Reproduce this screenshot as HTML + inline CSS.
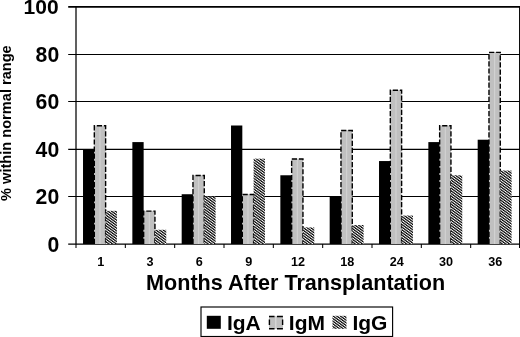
<!DOCTYPE html>
<html><head><meta charset="utf-8"><title>chart</title>
<style>
html,body{margin:0;padding:0;background:#fff;}
body{width:520px;height:337px;overflow:hidden;}
svg{display:block;}
text{font-family:"Liberation Sans",Arial,sans-serif;font-weight:bold;fill:#000;}
</style></head><body>
<svg width="520" height="337" viewBox="0 0 520 337">
<defs>
<pattern id="hatch" width="2.16" height="2.16" patternUnits="userSpaceOnUse" patternTransform="rotate(-54)">
<rect width="2.16" height="2.16" fill="#fff"/><rect width="1.18" height="2.16" fill="#000"/>
</pattern>
</defs>
<rect width="520" height="337" fill="#fff"/>

<line x1="68.2" y1="244.05" x2="520.0" y2="244.05" stroke="#000" stroke-width="1.25"/>
<line x1="68.2" y1="196.50" x2="520.0" y2="196.50" stroke="#000" stroke-width="1.0"/>
<line x1="68.2" y1="149.30" x2="520.0" y2="149.30" stroke="#000" stroke-width="1.2"/>
<line x1="68.2" y1="101.50" x2="520.0" y2="101.50" stroke="#000" stroke-width="1.0"/>
<line x1="68.2" y1="54.50" x2="520.0" y2="54.50" stroke="#000" stroke-width="1.0"/>
<line x1="68.2" y1="6.95" x2="520.0" y2="6.95" stroke="#000" stroke-width="1.7"/>
<line x1="76.0" y1="6.2" x2="76.0" y2="244.0" stroke="#000" stroke-width="1.25"/>
<line x1="519.6" y1="6.2" x2="519.6" y2="248.0" stroke="#000" stroke-width="1.1"/>
<line x1="76.00" y1="244.0" x2="76.00" y2="248.0" stroke="#000" stroke-width="1.05"/>
<line x1="125.33" y1="244.0" x2="125.33" y2="248.0" stroke="#000" stroke-width="1.05"/>
<line x1="174.67" y1="244.0" x2="174.67" y2="248.0" stroke="#000" stroke-width="1.05"/>
<line x1="224.00" y1="244.0" x2="224.00" y2="248.0" stroke="#000" stroke-width="1.05"/>
<line x1="273.33" y1="244.0" x2="273.33" y2="248.0" stroke="#000" stroke-width="1.05"/>
<line x1="322.67" y1="244.0" x2="322.67" y2="248.0" stroke="#000" stroke-width="1.05"/>
<line x1="372.00" y1="244.0" x2="372.00" y2="248.0" stroke="#000" stroke-width="1.05"/>
<line x1="421.33" y1="244.0" x2="421.33" y2="248.0" stroke="#000" stroke-width="1.05"/>
<line x1="470.67" y1="244.0" x2="470.67" y2="248.0" stroke="#000" stroke-width="1.05"/>
<line x1="520.00" y1="244.0" x2="520.00" y2="248.0" stroke="#000" stroke-width="1.05"/>
<rect x="83.02" y="149.20" width="11.3" height="94.80" fill="#000"/>
<rect x="94.32" y="125.50" width="11.3" height="118.50" fill="#c0c0c0"/>
<rect x="99.47" y="126.50" width="1" height="117.50" fill="#d4d4d4"/>
<path d="M94.32 244.0 V125.80 H105.62 V244.0" fill="none" stroke="#000" stroke-width="1.4" stroke-dasharray="5.2 1.9"/>
<rect x="105.62" y="210.82" width="11.3" height="33.18" fill="url(#hatch)"/>
<text transform="translate(100.67,265.8) scale(1.02,1)" font-size="12.4" text-anchor="middle">1</text>
<rect x="132.35" y="142.09" width="11.3" height="101.91" fill="#000"/>
<rect x="143.65" y="210.82" width="11.3" height="33.18" fill="#c0c0c0"/>
<rect x="148.80" y="211.82" width="1" height="32.18" fill="#d4d4d4"/>
<path d="M143.65 244.0 V211.12 H154.95 V244.0" fill="none" stroke="#000" stroke-width="1.4" stroke-dasharray="5.2 1.9"/>
<rect x="154.95" y="229.78" width="11.3" height="14.22" fill="url(#hatch)"/>
<text transform="translate(150.00,265.8) scale(1.02,1)" font-size="12.4" text-anchor="middle">3</text>
<rect x="181.68" y="194.23" width="11.3" height="49.77" fill="#000"/>
<rect x="192.98" y="175.27" width="11.3" height="68.73" fill="#c0c0c0"/>
<rect x="198.13" y="176.27" width="1" height="67.73" fill="#d4d4d4"/>
<path d="M192.98 244.0 V175.57 H204.28 V244.0" fill="none" stroke="#000" stroke-width="1.4" stroke-dasharray="5.2 1.9"/>
<rect x="204.28" y="196.60" width="11.3" height="47.40" fill="url(#hatch)"/>
<text transform="translate(199.33,265.8) scale(1.02,1)" font-size="12.4" text-anchor="middle">6</text>
<rect x="231.02" y="125.50" width="11.3" height="118.50" fill="#000"/>
<rect x="242.32" y="194.23" width="11.3" height="49.77" fill="#c0c0c0"/>
<rect x="247.47" y="195.23" width="1" height="48.77" fill="#d4d4d4"/>
<path d="M242.32 244.0 V194.53 H253.62 V244.0" fill="none" stroke="#000" stroke-width="1.4" stroke-dasharray="5.2 1.9"/>
<rect x="253.62" y="158.68" width="11.3" height="85.32" fill="url(#hatch)"/>
<text transform="translate(248.67,265.8) scale(1.02,1)" font-size="12.4" text-anchor="middle">9</text>
<rect x="280.35" y="175.27" width="11.3" height="68.73" fill="#000"/>
<rect x="291.65" y="158.68" width="11.3" height="85.32" fill="#c0c0c0"/>
<rect x="296.80" y="159.68" width="1" height="84.32" fill="#d4d4d4"/>
<path d="M291.65 244.0 V158.98 H302.95 V244.0" fill="none" stroke="#000" stroke-width="1.4" stroke-dasharray="5.2 1.9"/>
<rect x="302.95" y="227.41" width="11.3" height="16.59" fill="url(#hatch)"/>
<text transform="translate(298.00,265.8) scale(1.02,1)" font-size="12.4" text-anchor="middle">12</text>
<rect x="329.68" y="196.60" width="11.3" height="47.40" fill="#000"/>
<rect x="340.98" y="130.24" width="11.3" height="113.76" fill="#c0c0c0"/>
<rect x="346.13" y="131.24" width="1" height="112.76" fill="#d4d4d4"/>
<path d="M340.98 244.0 V130.54 H352.28 V244.0" fill="none" stroke="#000" stroke-width="1.4" stroke-dasharray="5.2 1.9"/>
<rect x="352.28" y="225.04" width="11.3" height="18.96" fill="url(#hatch)"/>
<text transform="translate(347.33,265.8) scale(1.02,1)" font-size="12.4" text-anchor="middle">18</text>
<rect x="379.02" y="161.05" width="11.3" height="82.95" fill="#000"/>
<rect x="390.32" y="89.95" width="11.3" height="154.05" fill="#c0c0c0"/>
<rect x="395.47" y="90.95" width="1" height="153.05" fill="#d4d4d4"/>
<path d="M390.32 244.0 V90.25 H401.62 V244.0" fill="none" stroke="#000" stroke-width="1.4" stroke-dasharray="5.2 1.9"/>
<rect x="401.62" y="215.56" width="11.3" height="28.44" fill="url(#hatch)"/>
<text transform="translate(396.67,265.8) scale(1.02,1)" font-size="12.4" text-anchor="middle">24</text>
<rect x="428.35" y="142.09" width="11.3" height="101.91" fill="#000"/>
<rect x="439.65" y="125.50" width="11.3" height="118.50" fill="#c0c0c0"/>
<rect x="444.80" y="126.50" width="1" height="117.50" fill="#d4d4d4"/>
<path d="M439.65 244.0 V125.80 H450.95 V244.0" fill="none" stroke="#000" stroke-width="1.4" stroke-dasharray="5.2 1.9"/>
<rect x="450.95" y="175.27" width="11.3" height="68.73" fill="url(#hatch)"/>
<text transform="translate(446.00,265.8) scale(1.02,1)" font-size="12.4" text-anchor="middle">30</text>
<rect x="477.68" y="139.72" width="11.3" height="104.28" fill="#000"/>
<rect x="488.98" y="52.03" width="11.3" height="191.97" fill="#c0c0c0"/>
<rect x="494.13" y="53.03" width="1" height="190.97" fill="#d4d4d4"/>
<path d="M488.98 244.0 V52.33 H500.28 V244.0" fill="none" stroke="#000" stroke-width="1.4" stroke-dasharray="5.2 1.9"/>
<rect x="500.28" y="170.53" width="11.3" height="73.47" fill="url(#hatch)"/>
<text transform="translate(495.33,265.8) scale(1.02,1)" font-size="12.4" text-anchor="middle">36</text>
<text x="59.2" y="251.60" font-size="21.2" text-anchor="end">0</text>
<text x="59.2" y="204.20" font-size="21.2" text-anchor="end">20</text>
<text x="59.2" y="156.80" font-size="21.2" text-anchor="end">40</text>
<text x="59.2" y="109.40" font-size="21.2" text-anchor="end">60</text>
<text x="59.2" y="62.00" font-size="21.2" text-anchor="end">80</text>
<text x="58.6" y="14.0" font-size="21" text-anchor="end">100</text>
<text transform="translate(11.1,123.1) rotate(-90) scale(0.942,1)" font-size="15.5" text-anchor="middle">% within normal range</text>
<text x="295.6" y="290.4" font-size="21.6" text-anchor="middle">Months After Transplantation</text>
<rect x="201" y="307" width="191.6" height="29.5" fill="#fff" stroke="#000" stroke-width="1.15"/>
<rect x="206.8" y="315.8" width="14" height="13" fill="#000"/>
<text x="226.9" y="329.6" font-size="21">IgA</text>
<rect x="269" y="316.2" width="14" height="12.8" fill="#c0c0c0"/>
<rect x="275.3" y="316.5" width="1" height="12" fill="#e0e0e0"/>
<path d="M269 316.5H274.5M277 316.5H282.9M269 328.7H274.5M277 328.7H282.9M269.4 319.6V325M282.6 319.6V325" fill="none" stroke="#000" stroke-width="1.4"/>
<text x="288.8" y="329.6" font-size="21">IgM</text>
<rect x="332.5" y="315.8" width="14" height="13" fill="url(#hatch)"/>
<text x="352.4" y="329.6" font-size="21">IgG</text>
</svg></body></html>
